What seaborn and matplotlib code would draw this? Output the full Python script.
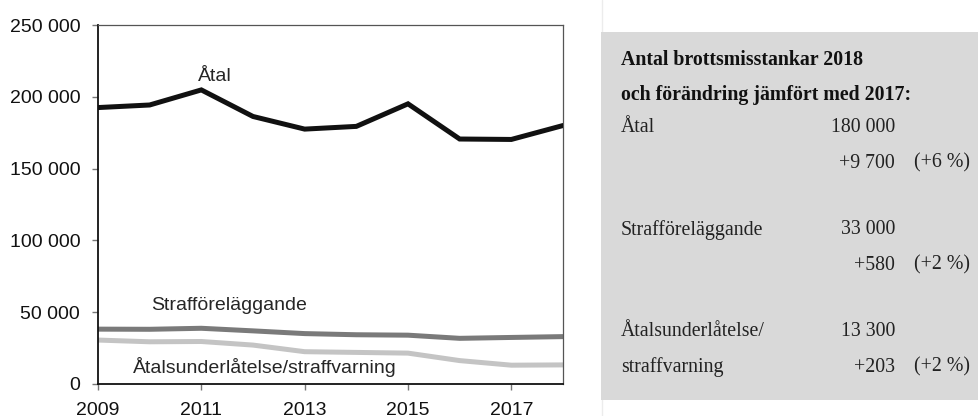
import matplotlib
matplotlib.use("Agg")
import matplotlib.pyplot as plt
import matplotlib.patches as mpatches
import seaborn as sns
import pandas as pd

years = [2009, 2010, 2011, 2012, 2013, 2014, 2015, 2016, 2017, 2018]
atal = [192500, 194300, 204800, 186300, 177500, 179400, 195100, 170600, 170300, 180000]
straff = [38200, 38100, 38800, 37000, 35100, 34300, 34000, 31800, 32420, 33000]
underl = [30600, 29400, 29600, 27100, 22500, 22000, 21500, 16300, 13100, 13300]
series_names = ["Åtal", "Strafföreläggande", "Åtalsunderlåtelse/straffvarning"]
series_colors = ["#111111", "#7a7a7a", "#c4c4c4"]
yticks = [0, 50000, 100000, 150000, 200000, 250000]
xticks = [2009, 2011, 2013, 2015, 2017]

panel_title = ["Antal brottsmisstankar 2018", "och förändring jämfört med 2017:"]
panel_rows = [
    ("Åtal", "180 000", ""),
    ("", "+9 700", "(+6 %)"),
    ("Strafföreläggande", "33 000", ""),
    ("", "+580", "(+2 %)"),
    ("Åtalsunderlåtelse/", "13 300", ""),
    ("straffvarning", "+203", "(+2 %)"),
]
panel_row_y = [128, 163, 230, 265, 332, 367]

df = pd.DataFrame({
    "year": years * 3,
    "value": atal + straff + underl,
    "series": [series_names[0]] * 10 + [series_names[1]] * 10 + [series_names[2]] * 10,
})

sns.set_style("white")
plt.rcParams["font.family"] = ["Liberation Sans", "DejaVu Sans"]

W, H = 979, 416
fig = plt.figure(figsize=(W / 100, H / 100), dpi=100)
ax = fig.add_axes([98 / W, 1 - 384 / H, (563 - 98) / W, (384 - 25) / H])

sns.lineplot(data=df, x="year", y="value", hue="series", hue_order=series_names,
             palette=series_colors, linewidth=3.6, legend=False, ax=ax,
             solid_joinstyle="miter")
for ln, z in zip(ax.get_lines(), [3, 2, 1]):
    ln.set_zorder(z)

ax.set_xlim(2009, 2018)
ax.set_ylim(0, 250000)
ax.set_xticks(xticks)
ax.set_yticks(yticks)
ax.set_yticklabels([f"{v:,}".replace(",", " ") for v in yticks])
ax.set_xlabel("")
ax.set_ylabel("")
ax.tick_params(axis="both", labelsize=14, length=4.3, width=1, color="#777777",
               direction="out", left=True, bottom=True, labelcolor="#111111")
ax.tick_params(axis="y", pad=8.5)
ax.tick_params(axis="x", pad=9)
for s in ["left", "bottom"]:
    ax.spines[s].set_color("#111111")
    ax.spines[s].set_linewidth(1.3)
for s in ["top", "right"]:
    ax.spines[s].set_visible(True)
    ax.spines[s].set_color("#555555")
    ax.spines[s].set_linewidth(0.9)

ax.text(2011.26, 213800, "Åtal", fontsize=14, ha="center", va="center")
ax.text(2011.53, 55000, "Strafföreläggande", fontsize=14, ha="center", va="center")
ax.text(2012.22, 11800, "Åtalsunderlåtelse/straffvarning", fontsize=14, ha="center", va="center")

# right panel
fig.patches.append(mpatches.Rectangle((601 / W, 1 - 400 / H), (W - 601) / W, (400 - 32) / H,
                                      transform=fig.transFigure, facecolor="#d9d9d9",
                                      edgecolor="none", zorder=0))
fig.add_artist(plt.Line2D([602 / W, 602 / W], [0, 1], transform=fig.transFigure,
                          color="#ececec", linewidth=1, zorder=0))

serif = ["Liberation Serif", "DejaVu Serif"]
fs = 14.3
fig.text(621 / W, 1 - 60 / H, panel_title[0], fontsize=fs, fontweight="bold",
         family=serif, va="center", ha="left", color="#111111")
fig.text(621 / W, 1 - 95 / H, panel_title[1], fontsize=fs, fontweight="bold",
         family=serif, va="center", ha="left", color="#111111")
for (lab, num, pct), y in zip(panel_rows, panel_row_y):
    if lab:
        fig.text(621 / W, 1 - y / H, lab, fontsize=fs, family=serif, va="center",
                 ha="left", color="#222222")
    fig.text(895 / W, 1 - y / H, num, fontsize=fs, family=serif, va="center",
             ha="right", color="#222222")
    if pct:
        fig.text(914 / W, 1 - y / H, pct, fontsize=fs, family=serif, va="center",
                 ha="left", color="#222222")

fig.savefig("out.png", dpi=100, facecolor="white")
